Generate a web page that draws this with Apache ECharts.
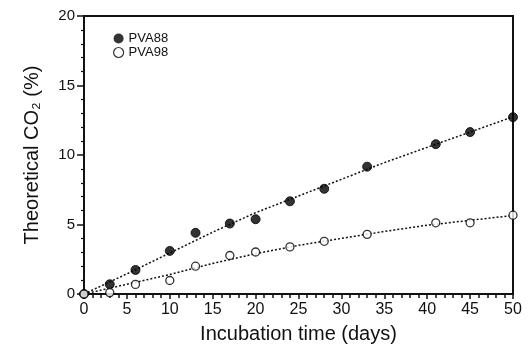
<!DOCTYPE html>
<html>
<head>
<meta charset="utf-8">
<script src="https://cdn.jsdelivr.net/npm/echarts@6/dist/echarts.min.js"></script>
<style>
  html, body { margin: 0; padding: 0; background: #fff; }
  #chart { width: 531px; height: 349px; }
</style>
</head>
<body>
<div id="chart"></div>
<script>
// measured days and % of theoretical CO2
const days = [0, 3, 6, 10, 13, 17, 20, 24, 28, 33, 41, 45, 50];
const pva88 = [0, 0.7, 1.73, 3.1, 4.4, 5.07, 5.38, 6.67, 7.57, 9.16, 10.78, 11.65, 12.72];
const pva98 = [0, 0.1, 0.69, 0.97, 2.0, 2.77, 3.02, 3.39, 3.79, 4.29, 5.12, 5.12, 5.67];

// dotted trend lines
const fitDays = [0, 5, 10, 15, 20, 25, 30, 35, 40, 45, 50];
const fit88 = [0, 1.45, 2.95, 4.45, 5.85, 7.05, 8.25, 9.45, 10.55, 11.65, 12.75];
const fit98 = [0, 0.7, 1.4, 2.2, 2.9, 3.5, 4.0, 4.5, 4.95, 5.3, 5.65];

const font = '"Liberation Sans", Arial, sans-serif';
const ink = '#111';
const pair = (xs, ys) => xs.map((x, i) => [x, ys[i]]);

const chart = echarts.init(document.getElementById('chart'));

const dotted = {
  type: 'line',
  symbol: 'none',
  silent: true,
  lineStyle: { color: ink, width: 1.5, type: [2, 2] },
  z: 1
};

chart.setOption({
  animation: false,
  backgroundColor: '#fff',
  textStyle: { fontFamily: font, color: ink },
  grid: {
    left: 84, right: 18, top: 16, bottom: 52,
    show: true, borderColor: ink, borderWidth: 2
  },
  legend: {
    left: 108, top: 27,
    orient: 'vertical',
    itemGap: 1,
    itemWidth: 10, itemHeight: 10,
    textStyle: { fontFamily: font, fontSize: 13, color: ink },
    data: [
      { name: 'PVA88', icon: 'circle', itemStyle: { color: '#000', borderColor: '#000', borderWidth: 0 } },
      { name: 'PVA98', icon: 'circle', itemStyle: { color: '#fff', borderColor: '#000', borderWidth: 1.2 } }
    ]
  },
  xAxis: {
    type: 'value', min: 0, max: 50, interval: 5,
    name: 'Incubation time (days)',
    nameLocation: 'middle', nameGap: 30,
    nameTextStyle: { fontFamily: font, fontSize: 20, color: ink },
    axisLine: { lineStyle: { color: ink, width: 2 } },
    axisTick: { length: 5, lineStyle: { color: ink, width: 1.5 } },
    minorTick: { show: true, splitNumber: 5, length: 4, lineStyle: { color: ink, width: 1.5 } },
    axisLabel: { fontFamily: font, fontSize: 16, color: ink, margin: 8 },
    splitLine: { show: false }
  },
  yAxis: {
    type: 'value', min: 0, max: 20, interval: 5,
    name: 'Theoretical CO\u2082 (%)',
    nameLocation: 'middle', nameGap: 42, nameRotate: 90,
    nameTextStyle: { fontFamily: font, fontSize: 20, color: ink },
    axisLine: { lineStyle: { color: ink, width: 2 } },
    axisTick: { length: 7, lineStyle: { color: ink, width: 1.5 } },
    minorTick: { show: true, splitNumber: 5, length: 3, lineStyle: { color: ink, width: 1.2 } },
    axisLabel: { fontFamily: font, fontSize: 15, color: ink, margin: 9 },
    splitLine: { show: false }
  },
  series: [
    Object.assign({ name: 'fit88', data: pair(fitDays, fit88) }, dotted),
    Object.assign({ name: 'fit98', data: pair(fitDays, fit98) }, dotted),
    {
      name: 'PVA88', type: 'scatter',
      data: pair(days, pva88),
      symbol: 'circle', symbolSize: 9,
      itemStyle: { color: '#000', borderColor: '#000', borderWidth: 1 },
      z: 3
    },
    {
      name: 'PVA98', type: 'scatter',
      data: pair(days, pva98),
      symbol: 'circle', symbolSize: 8,
      itemStyle: { color: '#fff', borderColor: '#000', borderWidth: 1.3 },
      z: 4
    }
  ]
});
</script>
</body>
</html>
